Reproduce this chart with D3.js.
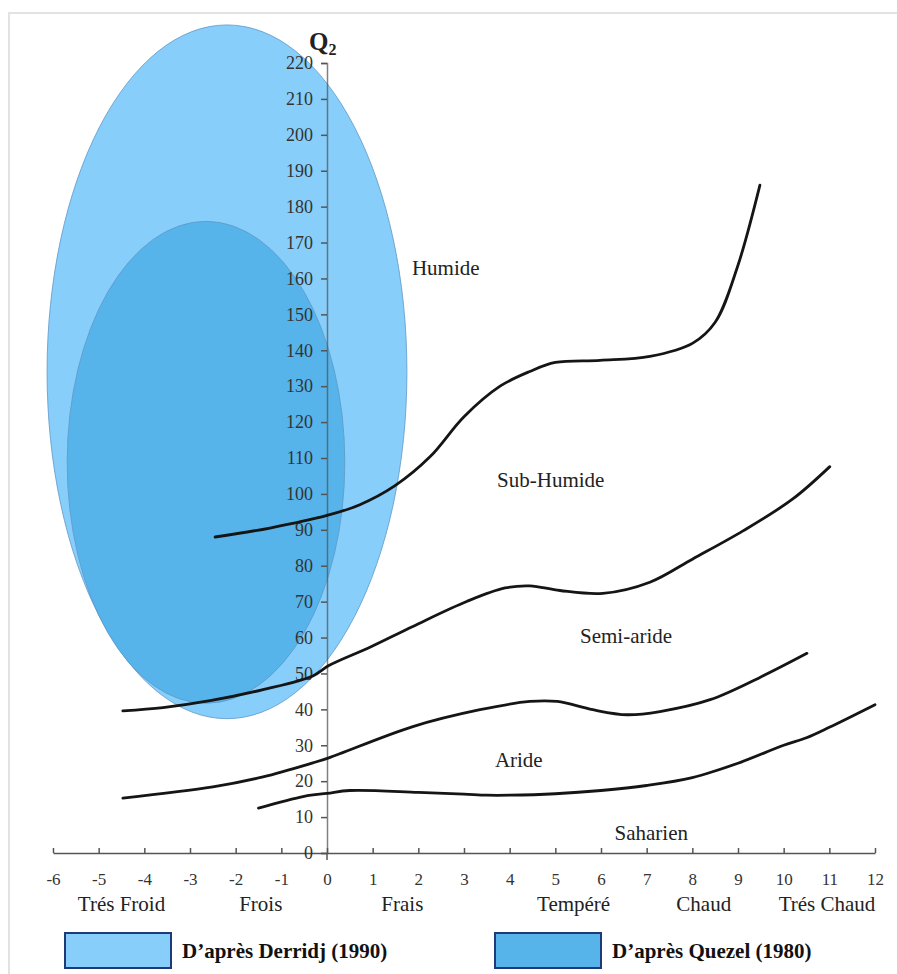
<!DOCTYPE html>
<html>
<head>
<meta charset="utf-8">
<script src="https://cdn.jsdelivr.net/npm/d3@7"></script>
<style>
  body { margin: 0; background: #fff; }
  svg { display: block; font-family: "Liberation Serif", "Times New Roman", serif; }
  svg text { font-family: "Liberation Serif", "Times New Roman", serif; }
</style>
</head>
<body>
<svg id="chart" width="897" height="974"></svg>
<script>
// x ticks and temperature classes
const xTicks = d3.range(-6, 13);
const yTicks = d3.range(0, 221, 10);
const thermalClasses = [
    { label: 'Trés Froid', x: -4.5 },
    { label: 'Frois', x: -1.45 },
    { label: 'Frais', x: 1.65 },
    { label: 'Tempéré', x: 5.4 },
    { label: 'Chaud', x: 8.25 },
    { label: 'Trés Chaud', x: 10.95 }
];

// bioclimatic boundaries (m, Q2)
const humideLimit = [
    [-2.45, 88], [-1.25, 90.5], [0, 94], [0.72, 97], [1.49, 102.3], [2.26, 110.4],
    [3.0, 121.5], [3.79, 130], [4.44, 134.1], [5.0, 136.6], [5.98, 137.2],
    [7.07, 138.3], [8.01, 142], [8.5, 147.8], [8.98, 162.9], [9.48, 186]
];
const subHumideLimit = [
    [-4.47, 39.6], [-3.59, 40.5], [-2.56, 42.4], [-1.4, 45.5], [-0.31, 49.3],
    [0.04, 52.2], [0.94, 57.3], [1.88, 63.1], [3.07, 70.1], [3.9, 73.8],
    [4.44, 74.4], [5.1, 73.1], [6.04, 72.3], [7.07, 75.4], [8.01, 81.9],
    [9.11, 89.7], [10.2, 98.6], [11.01, 107.6]
];
const semiArideLimit = [
    [-4.47, 15.3], [-2.5, 18.4], [-1.4, 21.2], [-0.31, 25.1], [0.04, 26.5],
    [1.88, 35.2], [3.35, 39.9], [4.44, 42.2], [5.04, 42.2], [5.82, 39.9],
    [6.57, 38.5], [7.29, 39.4], [8.39, 42.7], [9.48, 48.9], [10.51, 55.6]
];
const arideLimit = [
    [-1.5, 12.5], [-0.5, 15.8], [0, 16.6], [0.5, 17.4], [2, 16.9], [3, 16.4],
    [3.5, 16.1], [4.0, 16.1], [5, 16.5], [6, 17.4], [7, 18.8], [8, 21],
    [9, 25], [10, 30], [10.5, 32.1], [11, 35], [12, 41.3]
];
const limits = [humideLimit, subHumideLimit, semiArideLimit, arideLimit];

// envelopes: centre and semi-axes in data units
const derridj = { cx: -2.19, cy: 134, rx: 3.94, ry: 96.6 };
const quezel = { cx: -2.65, cy: 108.8, rx: 3.04, ry: 67.1 };

const zones = [
    { label: 'Humide', x: 2.6, y: 163 },
    { label: 'Sub-Humide', x: 4.9, y: 104 },
    { label: 'Semi-aride', x: 6.55, y: 60.5 },
    { label: 'Aride', x: 4.2, y: 26 },
    { label: 'Saharien', x: 7.1, y: 5.5 }
];

const legendItems = [
    { label: 'D\u2019après Derridj (1990)', fill: '#87CEFA' },
    { label: 'D\u2019après Quezel (1980)', fill: '#56B4EB' }
];

const serif = '"Liberation Serif", "Times New Roman", serif';
const svg = d3.select('#chart');

const x = d3.scaleLinear().domain([-6, 12]).range([53, 875]);
const y = d3.scaleLinear().domain([0, 220]).range([853, 63]);

// light frame
svg.append('rect')
    .attr('x', 9).attr('y', 13)
    .attr('width', 900).attr('height', 1000)
    .attr('fill', 'none')
    .attr('stroke', '#e2e2e2')
    .attr('stroke-width', 2);

// ellipses
[[derridj, '#7AC9F9'], [quezel, '#51B1E9']].forEach(([e, fill]) => {
    svg.append('ellipse')
        .attr('cx', x(e.cx))
        .attr('cy', y(e.cy))
        .attr('rx', x(e.cx + e.rx) - x(e.cx))
        .attr('ry', y(e.cy - e.ry) - y(e.cy))
        .attr('fill', fill)
        .attr('fill-opacity', 0.9)
        .attr('stroke', '#5f97c8')
        .attr('stroke-width', 0.8);
});

// x axis, ticks pointing up
const xAxis = svg.append('g')
    .attr('transform', `translate(0,${y(0)})`)
    .call(d3.axisBottom(x).tickValues(xTicks).tickSize(-5).tickSizeOuter(0).tickPadding(20).tickFormat(d3.format('d')));
xAxis.select('.domain').attr('stroke', '#555').attr('stroke-width', 1.5);
xAxis.selectAll('.tick line').attr('stroke', '#555').attr('stroke-width', 1.5);
xAxis.selectAll('text')
    .style('font-family', serif)
    .attr('font-size', 17)
    .attr('fill', '#333')
    .text(d => d < 0 ? '-' + Math.abs(d) : d);

// y axis on x = 0
const yAxis = svg.append('g')
    .attr('transform', `translate(${x(0)},0)`)
    .call(d3.axisLeft(y).tickValues(yTicks).tickSize(6).tickSizeOuter(6).tickPadding(8));
yAxis.select('.domain').attr('stroke', '#555').attr('stroke-width', 1.5).attr('stroke-opacity', 0.75);
yAxis.selectAll('.tick line').attr('stroke', '#555').attr('stroke-width', 1.5);
yAxis.selectAll('text')
    .style('font-family', serif)
    .attr('font-size', 18)
    .attr('fill', '#333');
// axis runs a bit below the x axis
svg.append('line')
    .attr('x1', x(0)).attr('x2', x(0))
    .attr('y1', y(0)).attr('y2', y(0) + 7)
    .attr('stroke', '#555').attr('stroke-width', 1.5);

// Q2 title
const title = svg.append('text')
    .attr('x', x(0) - 18)
    .attr('y', 50)
    .attr('font-weight', 'bold')
    .attr('font-size', 25)
    .attr('fill', '#222');
title.append('tspan').text('Q');
title.append('tspan').attr('font-size', 16).attr('dy', 5).text('2');

// boundary curves
const line = d3.line()
    .x(d => x(d[0]))
    .y(d => y(d[1]))
    .curve(d3.curveCatmullRom.alpha(0.5));

svg.selectAll('.limit')
    .data(limits)
    .enter()
    .append('path')
    .attr('class', 'limit')
    .attr('d', line)
    .attr('fill', 'none')
    .attr('stroke', '#151515')
    .attr('stroke-width', 2.8)
    .attr('stroke-linecap', 'round');

// zone names
svg.selectAll('.zone')
    .data(zones)
    .enter()
    .append('text')
    .attr('class', 'zone')
    .attr('x', d => x(d.x))
    .attr('y', d => y(d.y))
    .attr('text-anchor', 'middle')
    .attr('dominant-baseline', 'central')
    .attr('font-size', 21)
    .attr('fill', '#222')
    .text(d => d.label);

// temperature classes under the axis
svg.selectAll('.thermal')
    .data(thermalClasses)
    .enter()
    .append('text')
    .attr('class', 'thermal')
    .attr('x', d => x(d.x))
    .attr('y', 904)
    .attr('text-anchor', 'middle')
    .attr('dominant-baseline', 'central')
    .attr('font-size', 21)
    .attr('fill', '#222')
    .text(d => d.label);

// legend
const legendX = [65, 495];
const legend = svg.selectAll('.legend')
    .data(legendItems)
    .enter()
    .append('g')
    .attr('class', 'legend')
    .attr('transform', (d, i) => `translate(${legendX[i]},933)`);

legend.append('rect')
    .attr('width', 106)
    .attr('height', 35)
    .attr('fill', d => d.fill)
    .attr('stroke', '#1f3a78')
    .attr('stroke-width', 2);

legend.append('text')
    .attr('x', 117)
    .attr('y', 18)
    .attr('dominant-baseline', 'central')
    .attr('font-weight', 'bold')
    .attr('font-size', 21)
    .attr('fill', '#111')
    .text(d => d.label);
</script>
</body>
</html>
